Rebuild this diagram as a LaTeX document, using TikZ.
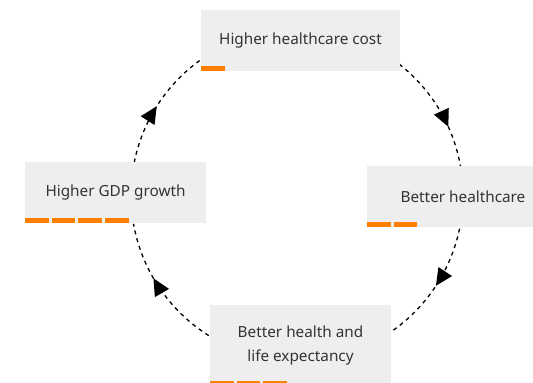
\documentclass[tikz,border=0pt]{standalone}
\usepackage{fontspec}
\setmainfont{Noto Sans}
\usetikzlibrary{calc, arrows.meta, decorations.markings}
\definecolor{boxgray}{HTML}{EEEEEE}
\definecolor{txtgray}{HTML}{333333}
\definecolor{barorange}{HTML}{FF8000}
\tikzset{
  stagebox/.style={fill=boxgray, text=txtgray, inner sep=0pt, font=\fontsize{15.3}{24}\selectfont},
  cycarc/.style={line width=1.3pt, dash pattern=on 4pt off 4pt,
    postaction={decorate}, decoration={markings,
      mark=at position #1 with {\arrow[solid]{Triangle[length=17pt,width=16pt]}}}},
  bar/.style={fill=barorange}
}
\begin{document}
\begin{tikzpicture}[x=1pt,y=1pt]
                    \useasboundingbox (0,0) rectangle (533,383);
                    \coordinate (hub) at (297,188);
                    \coordinate (s1) at ($(hub)+(52:166)$);
                    \coordinate (s2) at ($(hub)+(-11.7:166)$);
                    \coordinate (s3) at ($(hub)+(237.9:166)$);
                    \coordinate (s4) at ($(hub)+(168.7:166)$);

                    \draw[cycarc=0.66] (s1) arc[start angle=52, end angle=10, radius=166];
                    \draw[cycarc=0.49] (s2) arc[start angle=-11.7, end angle=-55.5, radius=166];
                    \draw[cycarc=0.58] (s3) arc[start angle=237.9, end angle=190, radius=166];
                    \draw[cycarc=0.48] (s4) arc[start angle=168.7, end angle=124.9, radius=166];

                    \node[stagebox, minimum width=199, minimum height=61] (cost) at (300.5,342.5) {Higher healthcare cost};
                    \node[stagebox, minimum width=192, minimum height=61] (care) at (463,186.5) {Better healthcare};
                    \node[stagebox, minimum width=181, minimum height=80, align=center] (health) at (300.5,37.5) {Better health and\\life expectancy};
                    \node[stagebox, minimum width=181, minimum height=61] (gdp) at (115.5,190.5) {Higher GDP growth};

                    \foreach \stage/\n in {cost/1, care/2, health/3, gdp/4}
                      \foreach \i in {1,...,\n}
                        \fill[bar] ($(\stage.south west)+(\i*26.7-26.7,0)$) rectangle ++(23.7,5);
                \end{tikzpicture}
\end{document}
